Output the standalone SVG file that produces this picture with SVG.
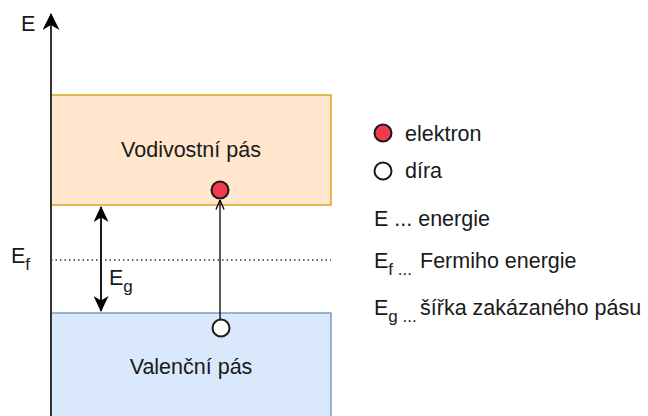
<svg xmlns="http://www.w3.org/2000/svg" width="648" height="416" viewBox="0 0 648 416">
<style>
text{font-family:"Liberation Sans",Arial,Helvetica,sans-serif;font-size:21.5px;fill:#1a1a1a}
.sub{font-size:17px}
.band-c{fill:#ffe6cc;stroke:#d79b00;stroke-width:1.3}
.band-v{fill:#dae8fc;stroke:#6c8ebf;stroke-width:1.3}
.e{fill:#f23a4f;stroke:#1a1a1a;stroke-width:2}
.h{fill:#ffffff;stroke:#1a1a1a;stroke-width:2}
.ln{stroke:#1a1a1a;stroke-width:2;fill:none}
</style>
<defs>
<marker id="ah" viewBox="0 0 16 15" refX="15" refY="7.5" markerWidth="16" markerHeight="15" markerUnits="userSpaceOnUse" orient="auto-start-reverse">
<path d="M0,0 L16,7.5 L0,15 L4.5,7.5 Z" fill="#000"/>
</marker>
<marker id="ax" viewBox="0 0 17 17" refX="16" refY="8.5" markerWidth="17" markerHeight="17" markerUnits="userSpaceOnUse" orient="auto">
<path d="M0,0 L17,8.5 L0,17 L5,8.5 Z" fill="#000"/>
</marker>
<marker id="open" viewBox="0 0 10 10" refX="9.5" refY="5" markerWidth="10" markerHeight="10" markerUnits="userSpaceOnUse" orient="auto">
<path d="M0,1 L9.5,5 L0,9" fill="none" stroke="#000" stroke-width="1.3"/>
</marker>
</defs>
<g id="conduction-band">
<rect class="band-c" x="51" y="95" width="280" height="110"/>
<text x="191" y="157" text-anchor="middle">Vodivostní pás</text>
</g>
<g id="valence-band">
<rect class="band-v" x="51" y="313" width="280" height="110"/>
<text x="191" y="374" text-anchor="middle">Valenční pás</text>
</g>
<g id="axis">
<line x1="51" y1="416" x2="51" y2="14" stroke="#333" stroke-width="2" marker-end="url(#ax)"/>
<text x="21" y="31">E</text>
</g>
<g id="fermi-level">
<line x1="51" y1="260" x2="331" y2="260" stroke="#333" stroke-width="1.5" stroke-dasharray="1.5 3"/>
<text x="11" y="263">E<tspan class="sub" dy="7">f</tspan></text>
</g>
<g id="connectors">
<line class="ln" x1="101" y1="207" x2="101" y2="311" marker-start="url(#ah)" marker-end="url(#ah)"/>
<line x1="220" y1="319" x2="220" y2="200" stroke="#000" stroke-width="1.3" marker-end="url(#open)"/>
</g>
<g id="gap-label">
<text x="109" y="285">E<tspan class="sub" dy="7">g</tspan></text>
</g>
<g id="electron">
<circle class="e" cx="220" cy="190" r="8.5"/>
</g>
<g id="hole">
<circle class="h" cx="221" cy="328" r="8.5"/>
</g>
<g id="legend">
<circle class="e" cx="383" cy="133" r="8.5"/>
<text x="405" y="141">elektron</text>
<circle class="h" cx="383" cy="171" r="8.5"/>
<text x="405" y="178">díra</text>
<text x="374" y="226">E ... energie</text>
<text x="374" y="268">E<tspan class="sub" dy="7">f ...</tspan></text>
<text x="420" y="268">Fermiho energie</text>
<text x="374" y="315">E<tspan class="sub" dy="7">g ...</tspan></text>
<text x="420" y="315">šířka zakázaného pásu</text>
</g>
</svg>
